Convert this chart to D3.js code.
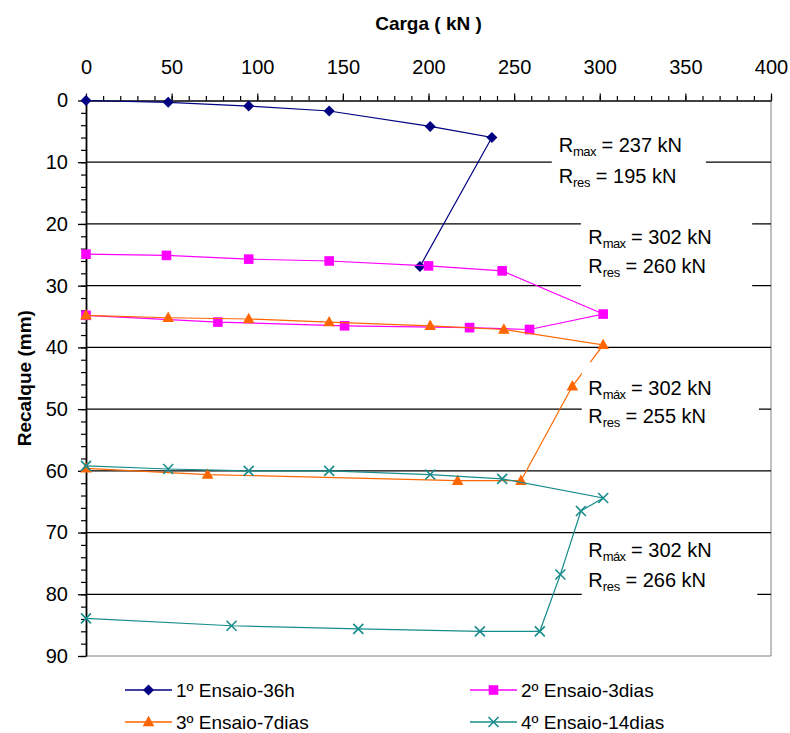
<!DOCTYPE html>
<html>
<head>
<meta charset="utf-8">
<script src="https://cdn.jsdelivr.net/npm/d3@7"></script>
<style>
  html, body { margin: 0; padding: 0; background: #fff; }
  svg { display: block; font-family: "Liberation Sans", Arial, sans-serif; }
</style>
</head>
<body>
<svg id="chart" width="790" height="733"></svg>
<script>
// Load test curves: load (kN) vs settlement (mm) for four tests
const carga1 = [0, 48, 95, 142, 201, 237, 195];
const recalque1 = [0, 0.3, 0.9, 1.7, 4.2, 6.0, 26.9];

const carga2 = [0, 47, 95, 142, 200, 243, 302, 259, 224, 151, 77, 0];
const recalque2 = [24.9, 25.1, 25.7, 26.0, 26.8, 27.6, 34.6, 37.1, 36.8, 36.5, 35.9, 34.8];

const carga3 = [0, 48, 95, 142, 201, 244, 302, 284, 254, 217, 71, 0];
const recalque3 = [34.8, 35.2, 35.4, 35.9, 36.5, 37.1, 39.6, 46.3, 61.6, 61.6, 60.6, 59.6];

const carga4 = [0, 48, 95, 142, 201, 243, 302, 289, 277, 265, 230, 159, 85, 0];
const recalque4 = [59.2, 59.7, 60.0, 60.0, 60.6, 61.3, 64.4, 66.5, 76.8, 86.0, 86.0, 85.6, 85.1, 83.9];

const seriesNames = ["1º Ensaio-36h", "2º Ensaio-3dias", "3º Ensaio-7dias", "4º Ensaio-14dias"];

const xTicks = [0, 50, 100, 150, 200, 250, 300, 350, 400];
const yTicks = [0, 10, 20, 30, 40, 50, 60, 70, 80, 90];

// Resistance annotations (kN)
const rMax = [237, 302, 302, 302];
const rRes = [195, 260, 255, 266];
const rMaxSub = ["max", "max", "máx", "máx"];

// ---- layout ----
const svg = d3.select("#chart");
const plotLeft = 86, plotRight = 771, plotTop = 100.5, plotBottom = 656;
const x = d3.scaleLinear().domain([0, 400]).range([plotLeft, plotRight]);
const y = d3.scaleLinear().domain([0, 90]).range([plotTop, plotBottom]);

const font = '"Liberation Sans", Arial, sans-serif';

// plot-area frame (right and bottom, grey)
svg.append("path")
  .attr("d", `M${plotRight},${plotTop}V${plotBottom}H${plotLeft}`)
  .attr("fill", "none").attr("stroke", "#808080").attr("stroke-width", 1);

// horizontal gridlines
svg.append("g").selectAll("line")
  .data(yTicks.filter(v => v > 0 && v < 90))
  .join("line")
  .attr("x1", plotLeft).attr("x2", plotRight)
  .attr("y1", d => y(d)).attr("y2", d => y(d))
  .attr("stroke", "#000").attr("stroke-width", 1.3);

// top axis: minor ticks every 10 kN, major every 50 kN
svg.append("g").attr("transform", `translate(0,${plotTop})`)
  .call(d3.axisTop(x).tickValues(d3.range(0, 401, 10)).tickSize(4.5).tickFormat(""))
  .call(g => g.select(".domain").remove())
  .call(g => g.selectAll("line").attr("stroke", "#000").attr("stroke-width", 1.2));

const xAxis = svg.append("g").attr("transform", `translate(0,${plotTop})`)
  .call(d3.axisTop(x).tickValues(xTicks).tickSize(7).tickPadding(19.5).tickSizeOuter(0));
xAxis.select(".domain").attr("stroke", "#000").attr("stroke-width", 1.6);
xAxis.selectAll("line").attr("stroke", "#000").attr("stroke-width", 1.2);
xAxis.selectAll("text").attr("font-size", 20).attr("font-family", font).attr("fill", "#000");

// left axis: minor ticks every 2 mm, major every 10 mm
svg.append("g").attr("transform", `translate(${plotLeft},0)`)
  .call(d3.axisLeft(y).tickValues(d3.range(0, 91, 2)).tickSize(5).tickFormat(""))
  .call(g => g.select(".domain").remove())
  .call(g => g.selectAll("line").attr("stroke", "#000").attr("stroke-width", 1.2));

const yAxis = svg.append("g").attr("transform", `translate(${plotLeft},0)`)
  .call(d3.axisLeft(y).tickValues(yTicks).tickSize(8).tickPadding(10).tickSizeOuter(0));
yAxis.select(".domain").attr("stroke", "#000").attr("stroke-width", 1.8);
yAxis.selectAll("line").attr("stroke", "#000").attr("stroke-width", 1.3);
yAxis.selectAll("text").attr("font-size", 20).attr("font-family", font).attr("fill", "#000");

// axis titles
svg.append("text")
  .attr("x", (plotLeft + plotRight) / 2).attr("y", 30)
  .attr("text-anchor", "middle").attr("font-weight", "bold").attr("font-size", 19)
  .text("Carga ( kN )");

svg.append("text")
  .attr("transform", `translate(31,${(plotTop + plotBottom) / 2}) rotate(-90)`)
  .attr("text-anchor", "middle").attr("font-weight", "bold").attr("font-size", 19)
  .text("Recalque (mm)");

// ---- series ----
const colors = ["#000080", "#FF00FF", "#FF6600", "#198C8C"];
const shapes = ["diamond", "square", "triangle", "cross"];
const seriesData = [
  [carga1, recalque1], [carga2, recalque2], [carga3, recalque3], [carga4, recalque4]
];

function marker(sel, shape, color) {
  if (shape === "diamond") {
    sel.append("path").attr("d", "M0,-5.5L5.5,0L0,5.5L-5.5,0Z").attr("fill", color);
  } else if (shape === "square") {
    sel.append("rect").attr("x", -4.8).attr("y", -4.8).attr("width", 9.6).attr("height", 9.6)
      .attr("fill", color);
  } else if (shape === "triangle") {
    sel.append("path").attr("d", "M0,-6.2L5.8,4.2L-5.8,4.2Z").attr("fill", color);
  } else {
    sel.append("path").attr("d", "M-5,-5L5,5M-5,5L5,-5")
      .attr("stroke", color).attr("stroke-width", 1.6).attr("fill", "none");
  }
}

const line = d3.line().x(d => x(d[0])).y(d => y(d[1]));

seriesData.forEach(([cs, rs], i) => {
  const pts = cs.map((c, k) => [c, rs[k]]);
  const g = svg.append("g");
  g.append("path").datum(pts).attr("d", line)
    .attr("fill", "none").attr("stroke", colors[i]).attr("stroke-width", 1.2);
  g.selectAll("g.pt").data(pts).join("g")
    .attr("class", "pt")
    .attr("transform", d => `translate(${x(d[0])},${y(d[1])})`)
    .each(function () { marker(d3.select(this), shapes[i], colors[i]); });
});

// ---- resistance text boxes (data units: kN, mm) ----
const boxes = [
  { x0: 272, x1: 362, y0: 4.5, y1: 14.8, tx: 276, b1: 8.3, b2: 13.4 },
  { x0: 289, x1: 389, y0: 18.1, y1: 31.7, tx: 293.3, b1: 23.25, b2: 27.95 },
  { x0: 289.5, x1: 393, y0: 42.4, y1: 54.4, tx: 293.3, b1: 47.7, b2: 52.3 },
  { x0: 289.5, x1: 392, y0: 70.9, y1: 80.9, tx: 293.3, b1: 74.0, b2: 78.8 }
];

boxes.forEach((b, i) => {
  const g = svg.append("g");
  g.append("rect")
    .attr("x", x(b.x0)).attr("y", y(b.y0))
    .attr("width", x(b.x1) - x(b.x0)).attr("height", y(b.y1) - y(b.y0))
    .attr("fill", "#fff");
  const t1 = g.append("text").attr("x", x(b.tx)).attr("y", y(b.b1)).attr("font-size", 20);
  t1.append("tspan").text("R");
  t1.append("tspan").attr("font-size", 13).attr("dy", 4).attr("letter-spacing", -0.6).text(rMaxSub[i]);
  t1.append("tspan").attr("dy", -4).text(` = ${rMax[i]} kN`);
  const t2 = g.append("text").attr("x", x(b.tx)).attr("y", y(b.b2)).attr("font-size", 20);
  t2.append("tspan").text("R");
  t2.append("tspan").attr("font-size", 13).attr("dy", 4).attr("letter-spacing", -0.3).text("res");
  t2.append("tspan").attr("dy", -4).text(` = ${rRes[i]} kN`);
});

// ---- legend ----
const legendPos = [[125, 690], [470, 690], [125, 722], [470, 722]];
seriesNames.forEach((name, i) => {
  const [lx, ly] = legendPos[i];
  const g = svg.append("g").attr("transform", `translate(${lx},${ly})`);
  g.append("line").attr("x1", 0).attr("x2", 47).attr("y1", 0).attr("y2", 0)
    .attr("stroke", colors[i]).attr("stroke-width", 1.6);
  marker(g.append("g").attr("transform", "translate(23.5,0)"), shapes[i], colors[i]);
  g.append("text").attr("x", 51).attr("y", 7).attr("font-size", 19).text(name);
});
</script>
</body>
</html>
